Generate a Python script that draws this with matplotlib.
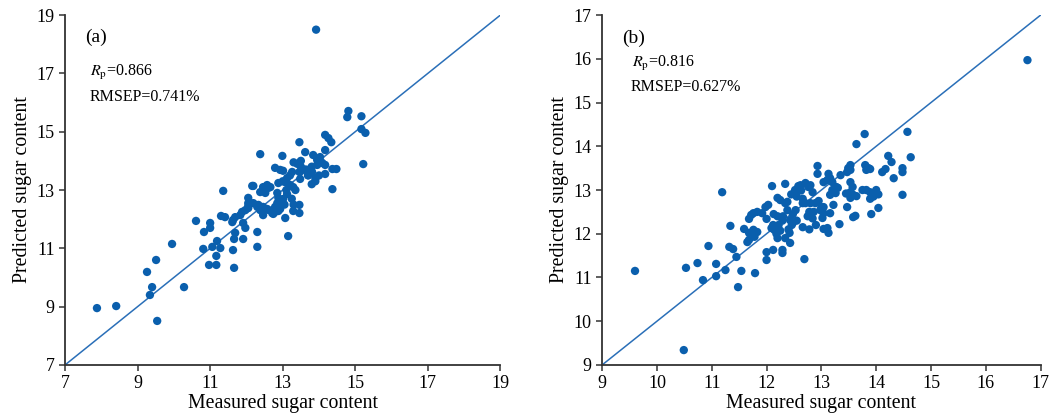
import matplotlib.pyplot as plt

plt.rcParams['font.family'] = ['Liberation Serif', 'DejaVu Serif']
plt.rcParams['mathtext.fontset'] = 'stix'

# panel (a): measured vs predicted
meas_a = [7.88, 8.41, 9.26, 9.51, 9.40, 9.34, 9.54, 9.95, 10.28, 10.61,
          10.83, 11.00, 11.00, 10.81, 11.06, 11.28, 11.19, 11.17, 10.97, 11.17,
          11.66, 11.63, 11.66, 11.69, 11.91, 11.61, 11.63, 11.69, 11.83, 11.36,
          11.30, 11.41, 11.97, 11.91, 11.88, 11.97, 12.05, 12.16, 12.05, 12.30,
          12.30, 12.19, 12.30, 12.38, 12.46, 12.57, 12.66, 12.38, 12.46, 12.57,
          12.71, 12.79,
          14.81, 14.78, 15.17, 15.17, 15.28, 15.22, 14.17, 14.26, 14.34, 13.46,
          13.62, 14.17, 12.38, 12.99, 13.84, 13.95, 14.03, 14.09, 13.95, 14.17,
          14.17, 14.37, 14.48, 14.37, 12.79, 12.93, 13.01, 13.26, 13.46, 13.48,
          13.70, 13.81, 13.12, 13.07, 12.88, 13.29, 13.21, 12.57, 12.60, 12.46,
          12.19, 12.52, 12.85, 12.88, 12.99, 13.01, 13.12, 13.46, 13.46, 13.29,
          13.07, 13.15,
          12.05, 12.33, 12.85, 12.88, 12.46, 12.60, 12.74, 12.79, 12.93, 12.05,
          12.46,
          13.40, 13.50, 13.60, 13.50, 13.65, 13.80, 13.70, 13.90, 14.00, 13.90,
          13.80, 13.20, 13.30,
          13.00, 13.10, 13.25, 13.30, 13.35, 13.05, 13.92]
pred_a = [8.95, 9.02, 10.19, 10.60, 9.67, 9.40, 8.51, 11.15, 9.67, 11.94,
          11.56, 11.87, 11.70, 10.98, 11.05, 11.01, 11.25, 10.74, 10.43, 10.43,
          10.33, 10.94, 11.32, 11.53, 11.32, 11.90, 11.97, 12.07, 12.14, 12.97,
          12.11, 12.07, 11.70, 11.87, 12.25, 12.31, 12.38, 13.14, 12.73, 11.56,
          11.05, 12.55, 12.42, 12.93, 13.07, 13.14, 13.10, 12.31, 12.42, 12.35,
          12.21, 12.25,
          15.71, 15.50, 15.53, 15.09, 14.96, 13.89, 14.89, 14.78, 14.64, 14.64,
          14.30, 14.37, 14.23, 14.17, 14.20, 14.03, 14.13, 13.93, 13.86, 13.86,
          13.55, 13.72, 13.72, 13.03, 13.76, 13.69, 13.66, 13.62, 13.62, 13.38,
          13.51, 13.62, 13.41, 13.27, 13.24, 13.10, 13.17, 13.17, 13.07, 13.10,
          13.14, 12.90, 12.90, 12.73, 12.55, 12.69, 12.86, 12.49, 12.21, 12.28,
          12.04, 11.42,
          12.55, 12.49, 12.55, 12.28, 12.35, 12.32, 12.18, 12.42, 12.35, 12.45,
          12.14,
          13.90, 14.00, 13.70, 13.80, 13.70, 13.80, 13.50, 13.40, 13.50, 13.30,
          13.20, 13.50, 13.95,
          13.30, 13.00, 12.70, 12.50, 13.00, 12.50, 18.50]

# panel (b)
meas_b = [9.60, 10.49, 16.76,
          10.53, 10.74, 10.84, 10.94, 11.08, 11.08, 11.19, 11.25, 11.34, 11.32,
          11.39, 11.45, 11.48, 11.54, 11.59, 11.65, 11.68, 11.68, 11.76, 11.83,
          11.78, 11.79, 11.68, 11.72, 11.76, 11.83, 11.92, 12.00, 12.00, 12.00,
          11.98, 12.03,
          12.12, 12.09, 12.14, 12.18, 12.20, 12.25, 12.29, 12.20, 12.13, 12.12,
          12.29, 12.29, 12.20, 12.25, 12.34, 12.34, 12.38, 12.34, 12.43, 12.42,
          12.43, 12.48, 12.53, 12.46,
          12.62, 12.71, 12.80, 12.84, 12.63, 12.66, 12.71, 12.78, 12.75, 12.66,
          12.78, 12.84, 12.89, 12.95, 13.02, 12.69, 12.93, 12.93,
          13.79, 13.64, 14.57, 14.63, 14.22, 14.28, 14.48, 14.48, 14.32, 14.48,
          14.04, 13.91, 14.11, 14.17, 13.80, 13.86, 13.82, 13.89, 13.53, 13.49,
          13.47, 13.53, 13.35, 13.13, 13.16, 13.11, 13.20, 13.04, 13.27, 13.20,
          13.16, 13.26, 13.53, 13.57, 13.53, 13.58, 13.53, 13.64, 13.75, 13.82,
          13.89, 14.00, 14.04, 13.95, 13.89, 13.47, 13.58, 13.62, 13.33, 13.22,
          13.16, 13.04, 12.98, 13.04, 13.02, 13.11, 13.13, 13.04,
          12.45, 12.55, 12.80, 13.00, 12.38, 12.86, 12.55, 12.30, 12.48, 12.22,
          12.40, 12.90, 12.52, 12.58, 12.76, 13.30, 12.66, 13.45, 12.10]
pred_b = [11.15, 9.34, 15.97,
          11.22, 11.33, 10.94, 11.72, 11.31, 11.03, 12.95, 11.17, 12.18, 11.70,
          11.65, 11.47, 10.78, 11.15, 12.11, 11.81, 11.86, 12.02, 12.09, 12.04,
          11.93, 11.10, 12.34, 12.43, 12.47, 12.50, 12.47, 11.58, 11.40, 12.34,
          12.61, 12.66,
          12.20, 12.13, 12.09, 12.00, 11.90, 12.07, 12.30, 12.40, 12.45, 11.63,
          11.63, 11.56, 12.82, 12.77, 13.14, 12.70, 12.73, 11.90, 11.79, 12.02,
          12.31, 12.45, 12.54, 12.20,
          13.11, 13.16, 13.11, 12.95, 12.99, 12.80, 12.70, 12.50, 12.40, 12.15,
          12.10, 12.35, 12.70, 12.75, 12.60, 11.42, 13.55, 13.37,
          14.28, 14.05, 14.33, 13.75, 13.78, 13.64, 13.50, 13.41, 13.27, 12.89,
          12.59, 12.45, 13.41, 13.48, 13.57, 13.50, 13.46, 13.48, 13.57, 13.50,
          13.41, 13.46, 13.34, 13.37, 13.27, 13.23, 13.18, 13.18, 13.07, 13.00,
          12.89, 12.93, 13.18, 13.07, 12.95, 12.89, 12.82, 12.86, 13.00, 13.00,
          12.95, 13.00, 12.90, 12.85, 12.80, 12.61, 12.38, 12.41, 12.22, 12.66,
          12.47, 12.61, 12.54, 12.47, 12.36, 12.13, 12.02, 12.11,
          12.90, 12.85, 12.70, 12.60, 12.54, 12.50, 12.30, 12.40, 12.25, 12.20,
          12.10, 12.20, 13.00, 13.09, 13.07, 13.05, 12.70, 12.92, 13.09]

panels = [
    dict(x=meas_a, y=pred_a, lim=(7, 19), ticks=[7, 9, 11, 13, 15, 17, 19],
         tag='(a)', rp='0.866', rmsep='0.741%',
         pos=[0.062, 0.129, 0.415, 0.835], tagxy=(0.046, 0.937),
         rpxy=(0.057, 0.837), rmxy=(0.057, 0.766)),
    dict(x=meas_b, y=pred_b, lim=(9, 17), ticks=list(range(9, 18)),
         tag='(b)', rp='0.816', rmsep='0.627%',
         pos=[0.574, 0.129, 0.418, 0.835], tagxy=(0.046, 0.934),
         rpxy=(0.068, 0.863), rmxy=(0.064, 0.794)),
]

dot = '#0a5fad'
fig = plt.figure(figsize=(10.49, 4.19), dpi=100)

for p in panels:
    ax = fig.add_axes(p['pos'])
    lo, hi = p['lim']
    ax.plot([lo, hi], [lo, hi], color='#2a6fb8', lw=1.1, zorder=1)
    ax.scatter(p['x'], p['y'], s=36, color=dot, edgecolors='none', zorder=2)
    ax.set_xlim(lo, hi)
    ax.set_ylim(lo, hi)
    ax.set_xticks(p['ticks'])
    ax.set_yticks(p['ticks'])
    ax.spines['top'].set_visible(False)
    ax.spines['right'].set_visible(False)
    for s in ('left', 'bottom'):
        ax.spines[s].set_linewidth(1.3)
        ax.spines[s].set_color('#333333')
    ax.tick_params(direction='out', length=4, width=1.1, labelsize=13,
                   color='#333333')
    ax.set_xlabel('Measured sugar content', fontsize=14.3, labelpad=1)
    ax.set_ylabel('Predicted sugar content', fontsize=14.3, labelpad=3)
    ax.text(*p['tagxy'], p['tag'], transform=ax.transAxes, fontsize=14,
            va='center')
    ax.text(*p['rpxy'], r'$R_{\mathrm{p}}$=' + p['rp'], transform=ax.transAxes,
            fontsize=11.5, va='center')
    ax.text(*p['rmxy'], 'RMSEP=' + p['rmsep'], transform=ax.transAxes,
            fontsize=11.5, va='center')

fig.savefig('out.png', dpi=100, facecolor='white')
